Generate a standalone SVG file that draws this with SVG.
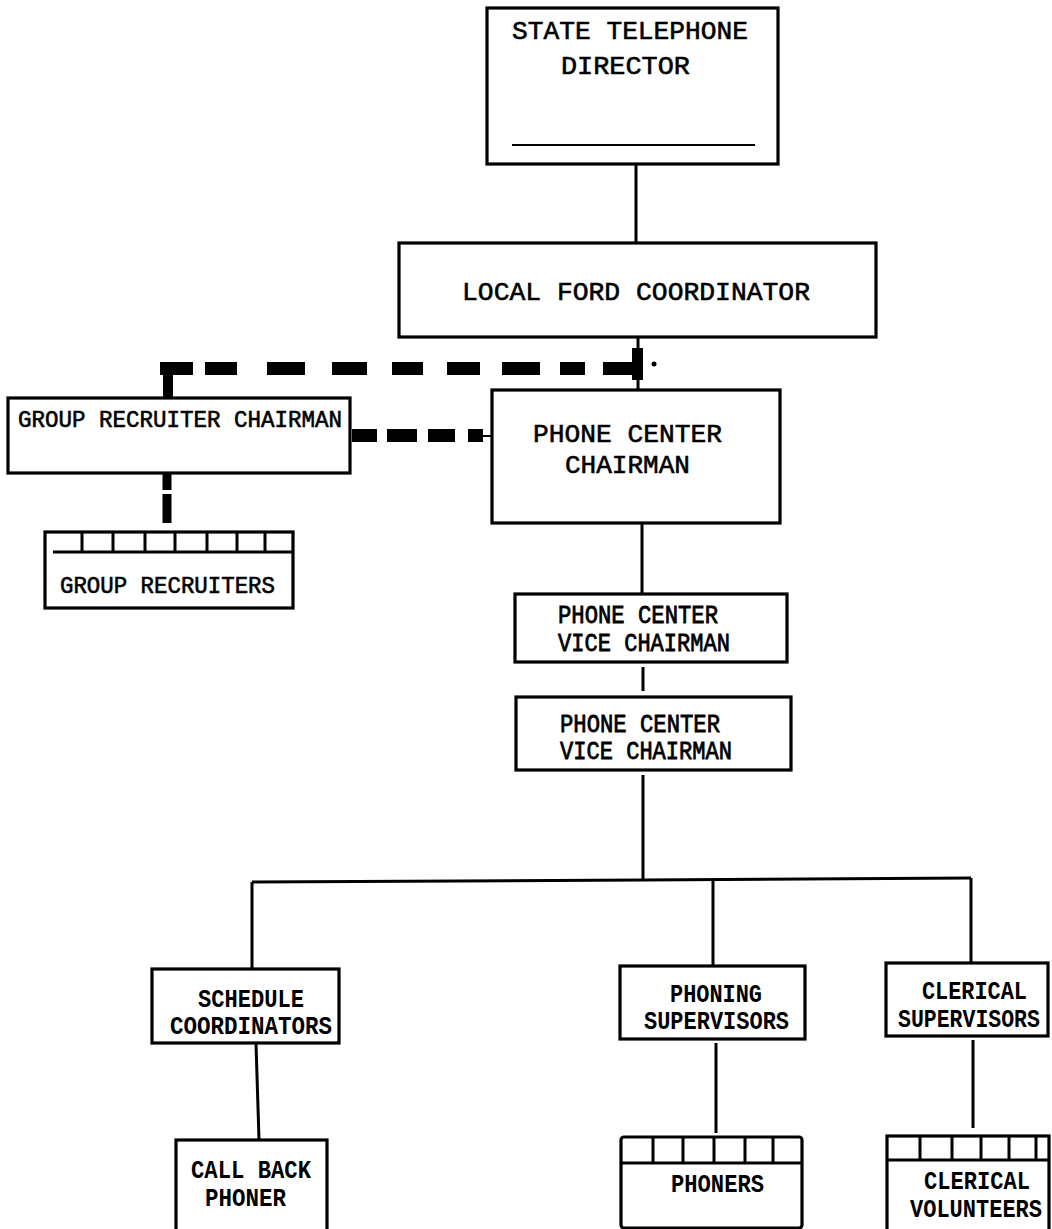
<svg xmlns="http://www.w3.org/2000/svg" width="1052" height="1229" viewBox="0 0 1052 1229">
<style>
  .box { fill: #fff; stroke: #000; stroke-width: 3.2; }
  .thin { stroke: #000; stroke-width: 2; fill: none; }
  .conn { stroke: #000; stroke-width: 3; fill: none; }
  .dash { stroke: #000; stroke-width: 13; fill: none; }
  .t { font-family: "Liberation Mono", "Courier New", monospace; fill: #000; }
  .big { font-size: 26px; stroke: #000; stroke-width: 0.6; }
  .mid { font-size: 23px; stroke: #000; stroke-width: 0.6; }
  .vc { font-size: 26px; stroke: #000; stroke-width: 0.8; }
  .cond { font-size: 25px; font-weight: bold; }
</style>
<rect width="1052" height="1229" fill="#fff"/>

<g id="connectors">
  <line class="conn" x1="636" y1="165" x2="636" y2="243"/>
  <line class="conn" x1="638" y1="337" x2="638" y2="390"/>
  <rect x="632" y="348" width="11" height="32" fill="#000"/>
  <circle cx="654" cy="364" r="2.5" fill="#000"/>
  <path class="dash" d="M205 368.5H237 M267 368.5H305 M332 368.5H367 M392 368.5H423 M447 368.5H480 M502 368.5H540 M560 368.5H585 M603 368.5H640"/>
  <path d="M160 362 H193 V375 H173 V398 H163 V375 H160 Z" fill="#000"/>
  <path class="dash" d="M352 435.5H377 M387 435.5H417 M428 435.5H455 M468 435.5H483"/>
  <line class="thin" x1="483" y1="436" x2="492" y2="436"/>
  <path d="M167 474V490 M167 494V523" stroke="#000" stroke-width="9" fill="none"/>
  <line class="conn" x1="642" y1="523" x2="642" y2="594"/>
  <line class="conn" x1="643" y1="667" x2="643" y2="691"/>
  <line class="conn" x1="643" y1="775" x2="643" y2="880"/>
  <polyline class="conn" points="252,882 643,880 971,878"/>
  <line class="conn" x1="252" y1="882" x2="252" y2="969"/>
  <line class="conn" x1="713" y1="880" x2="713" y2="966"/>
  <line class="conn" x1="971" y1="878" x2="971" y2="963"/>
  <line class="conn" x1="256" y1="1043" x2="259" y2="1140"/>
  <line class="conn" x1="716" y1="1043" x2="716" y2="1133"/>
  <line class="conn" x1="973" y1="1040" x2="973" y2="1128"/>
</g>

<g id="state-telephone-director">
  <rect class="box" x="487" y="8" width="291" height="156"/>
  <line class="thin" x1="512" y1="145" x2="755" y2="145"/>
  <text class="t big" x="512" y="39" textLength="236" lengthAdjust="spacingAndGlyphs">STATE TELEPHONE</text>
  <text class="t big" x="561" y="74" textLength="129" lengthAdjust="spacingAndGlyphs">DIRECTOR</text>
</g>

<g id="local-ford-coordinator">
  <rect class="box" x="399" y="243" width="477" height="94"/>
  <text class="t big" x="462" y="300" textLength="348" lengthAdjust="spacingAndGlyphs">LOCAL FORD COORDINATOR</text>
</g>

<g id="group-recruiter-chairman">
  <rect class="box" x="8" y="398" width="342" height="75"/>
  <text class="t mid" x="18" y="427" textLength="324" lengthAdjust="spacingAndGlyphs">GROUP RECRUITER CHAIRMAN</text>
</g>

<g id="phone-center-chairman">
  <rect class="box" x="492" y="390" width="288" height="133"/>
  <text class="t big" x="533" y="442" textLength="189" lengthAdjust="spacingAndGlyphs">PHONE CENTER</text>
  <text class="t big" x="565" y="473" textLength="125" lengthAdjust="spacingAndGlyphs">CHAIRMAN</text>
</g>

<g id="group-recruiters">
  <rect class="box" x="45" y="532" width="248" height="76"/>
  <line class="conn" x1="53" y1="552" x2="293" y2="552"/>
  <path class="conn" d="M82 532V552 M113 532V552 M145 532V552 M175 532V552 M207 532V552 M237 532V552 M265 532V552"/>
  <text class="t mid" x="60" y="593" textLength="215" lengthAdjust="spacingAndGlyphs">GROUP RECRUITERS</text>
</g>

<g id="vice-chairman-1">
  <rect class="box" x="515" y="594" width="272" height="68"/>
  <text class="t vc" x="558" y="623" textLength="160" lengthAdjust="spacingAndGlyphs">PHONE CENTER</text>
  <text class="t vc" x="558" y="651" textLength="172" lengthAdjust="spacingAndGlyphs">VICE CHAIRMAN</text>
</g>

<g id="vice-chairman-2">
  <rect class="box" x="516" y="697" width="275" height="73"/>
  <text class="t vc" x="560" y="732" textLength="160" lengthAdjust="spacingAndGlyphs">PHONE CENTER</text>
  <text class="t vc" x="560" y="759" textLength="172" lengthAdjust="spacingAndGlyphs">VICE CHAIRMAN</text>
</g>

<g id="schedule-coordinators">
  <rect class="box" x="152" y="969" width="187" height="74"/>
  <text class="t cond" x="198" y="1007" textLength="106" lengthAdjust="spacingAndGlyphs">SCHEDULE</text>
  <text class="t cond" x="170" y="1034" textLength="162" lengthAdjust="spacingAndGlyphs">COORDINATORS</text>
</g>

<g id="phoning-supervisors">
  <rect class="box" x="620" y="966" width="185" height="73"/>
  <text class="t cond" x="670" y="1002" textLength="92" lengthAdjust="spacingAndGlyphs">PHONING</text>
  <text class="t cond" x="644" y="1029" textLength="145" lengthAdjust="spacingAndGlyphs">SUPERVISORS</text>
</g>

<g id="clerical-supervisors">
  <rect class="box" x="886" y="963" width="162" height="73"/>
  <text class="t cond" x="922" y="999" textLength="105" lengthAdjust="spacingAndGlyphs">CLERICAL</text>
  <text class="t cond" transform="translate(898,1027) scale(0.86,1)" x="0" y="0" textLength="165" lengthAdjust="spacingAndGlyphs">SUPERVISORS</text>
</g>

<g id="call-back-phoner">
  <rect class="box" x="176" y="1140" width="151" height="100"/>
  <text class="t cond" x="191" y="1178" textLength="120" lengthAdjust="spacingAndGlyphs">CALL BACK</text>
  <text class="t cond" x="205" y="1206" textLength="81" lengthAdjust="spacingAndGlyphs">PHONER</text>
</g>

<g id="phoners">
  <rect class="box" x="621" y="1137" width="181" height="91" rx="3"/>
  <line class="conn" x1="621" y1="1163" x2="802" y2="1163"/>
  <path class="conn" d="M653 1137V1163 M683 1137V1163 M714 1137V1163 M745 1137V1163 M773 1137V1163"/>
  <text class="t cond" x="671" y="1192" textLength="93" lengthAdjust="spacingAndGlyphs">PHONERS</text>
</g>

<g id="clerical-volunteers">
  <rect class="box" x="887" y="1136" width="162" height="110"/>
  <line class="conn" x1="887" y1="1160" x2="1049" y2="1160"/>
  <path class="conn" d="M920 1136V1160 M952 1136V1160 M981 1136V1160 M1009 1136V1160 M1036 1136V1160"/>
  <text class="t cond" x="924" y="1189" textLength="106" lengthAdjust="spacingAndGlyphs">CLERICAL</text>
  <text class="t cond" transform="translate(910,1217) scale(0.88,1)" x="0" y="0" textLength="150" lengthAdjust="spacingAndGlyphs">VOLUNTEERS</text>
</g>
</svg>
